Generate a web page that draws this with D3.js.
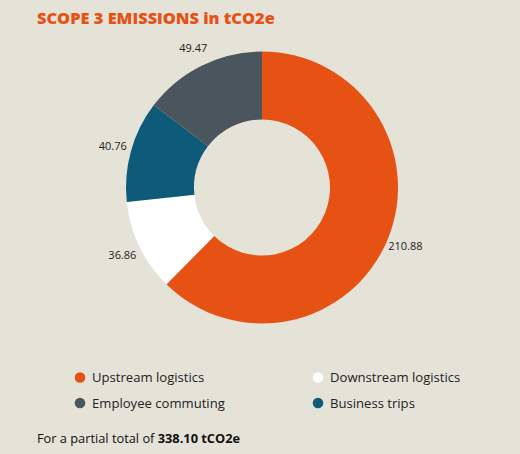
<!DOCTYPE html>
<html>
<head>
<meta charset="utf-8">
<script src="https://cdn.jsdelivr.net/npm/d3@7"></script>
<style>
  html, body { margin: 0; padding: 0; background: #e5e2d8; }
  text { font-family: "Open Sans", "Noto Sans", sans-serif; }
</style>
</head>
<body>
<div id="chart"></div>
<script>
// ---------------------- data ---------------------
var categories = ["Upstream logistics", "Downstream logistics", "Business trips", "Employee commuting"];
var values = [210.88, 36.86, 40.76, 49.47];
var colors = ["#e65214", "#ffffff", "#0d5b78", "#4a555e"];
var legendOrder = ["Upstream logistics", "Downstream logistics", "Employee commuting", "Business trips"];
var totalLabel = "338.10 tCO2e";

// ---------------------- svg ---------------------
var svg = d3.select("#chart")
     .append("svg")
     .attr("width", 520)
     .attr("height", 454)
     .style("background", "#e5e2d8");

svg.append("text")
     .text("SCOPE 3 EMISSIONS in tCO2e")
     .attr("x", 37)
     .attr("y", 24)
     .style("font-size", "16.4px")
     .style("font-weight", "800")
     .style("fill", "#e65214");

// ---------------------- donut ---------------------
var cx = 262, cy = 187.5, rOuter = 136, rInner = 68;

var pie = d3.pie().sort(null).value(function(d) { return d; });
var arcs = pie(values);
var arc = d3.arc().innerRadius(rInner).outerRadius(rOuter);
var labelArc = d3.arc().innerRadius(155).outerRadius(155);

var g = svg.append("g").attr("transform", "translate(" + cx + "," + cy + ")");

g.selectAll("path")
     .data(arcs)
     .enter()
     .append("path")
     .attr("d", arc)
     .style("fill", function(d, i) { return colors[i]; });

g.selectAll("text")
     .data(arcs)
     .enter()
     .append("text")
     .text(function(d) { return d.data.toFixed(2); })
     .attr("transform", function(d) { return "translate(" + labelArc.centroid(d) + ")"; })
     .attr("text-anchor", "middle")
     .attr("dy", "0.35em")
     .style("font-size", "11px")
     .style("fill", "#222");

// ---------------------- legend ---------------------
var colX = d3.scaleOrdinal().domain([0, 1]).range([80, 318]);
var rowY = d3.scaleOrdinal().domain([0, 1]).range([377.5, 403]);

var leg = svg.selectAll(".leg")
     .data(legendOrder)
     .enter()
     .append("g")
     .attr("class", "leg")
     .attr("transform", function(d, i) { return "translate(" + colX(i % 2) + "," + rowY(Math.floor(i / 2)) + ")"; });

leg.append("circle")
     .attr("r", 5.3)
     .style("fill", function(d) { return colors[categories.indexOf(d)]; });

leg.append("text")
     .text(function(d) { return d; })
     .attr("x", 12)
     .attr("dy", "0.35em")
     .style("font-size", "13.1px")
     .style("fill", "#222");

// ---------------------- footer ---------------------
var foot = svg.append("text")
     .attr("x", 37)
     .attr("y", 443)
     .style("font-size", "12.8px")
     .style("fill", "#111");
foot.append("tspan").text("For a partial total of ");
foot.append("tspan").text(totalLabel).style("font-weight", "bold");
</script>
</body>
</html>
